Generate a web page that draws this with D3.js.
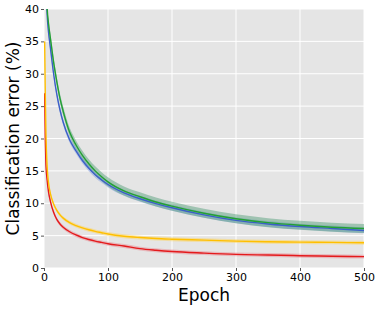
<!DOCTYPE html>
<html>
<head>
<meta charset="utf-8">
<script src="https://cdn.jsdelivr.net/npm/d3@7"></script>
<style>
  body { margin: 0; background: #fff; }
  svg { font-family: "DejaVu Sans", sans-serif; }
</style>
</head>
<body>
<div id="chart"></div>
<script>
const epochs = [1, 2, 3, 5, 7, 10, 15, 20, 25, 30, 40, 50, 60, 70, 80, 90, 100,
                125, 150, 175, 200, 250, 300, 350, 400, 450, 500];

const greenErr  = [55, 48, 45, 40, 37.8, 35.5, 31.8, 28.8, 26.2, 24.2, 21.0, 19.0, 17.4, 16.1, 15.0, 14.1, 13.3,
                   11.9, 11.0, 10.2, 9.55, 8.45, 7.6, 7.0, 6.6, 6.3, 6.1];
const blueErr   = [54, 47, 44, 39, 36.5, 34, 30.0, 26.8, 24.4, 22.5, 19.8, 18.1, 16.6, 15.4, 14.4, 13.6, 12.9,
                   11.6, 10.7, 9.95, 9.3, 8.2, 7.35, 6.8, 6.4, 6.1, 5.8];
const orangeErr = [35, 27, 21, 15.5, 13.2, 11.5, 9.9, 8.9, 8.2, 7.7, 7.0, 6.55, 6.2, 5.9, 5.65, 5.45, 5.25,
                   4.9, 4.7, 4.55, 4.45, 4.3, 4.15, 4.05, 4.0, 3.95, 3.9];
const redErr    = [27, 20, 16, 13.5, 11.8, 10.3, 8.6, 7.5, 6.8, 6.3, 5.6, 5.1, 4.7, 4.4, 4.15, 3.95, 3.75,
                   3.4, 3.0, 2.75, 2.55, 2.3, 2.1, 2.0, 1.9, 1.82, 1.75];

const seriesNames  = ["red", "orange", "blue", "green"];
const seriesColors = ["#e41a1c", "#ffbf00", "#3b5fc8", "#23a033"];
const bandColors   = ["#e8808a", "#ffd24d", "#7f9be0", "#4a9a70"];
const bandSpread   = [0.3, 0.3, 0.45, 0.7];

const xTicks = [0, 100, 200, 300, 400, 500];
const yTicks = [0, 5, 10, 15, 20, 25, 30, 35, 40];

const width = 381, height = 309;
const margin = { top: 9, right: 17, bottom: 41, left: 44 };

const values = [redErr, orangeErr, blueErr, greenErr];
const series = seriesNames.map((name, i) => ({
    name: name,
    color: seriesColors[i],
    band: bandColors[i],
    spread: bandSpread[i],
    points: epochs.map((e, j) => ({ epoch: e, err: values[i][j] }))
}));

const svg = d3.select("#chart").append("svg")
    .attr("width", width)
    .attr("height", height);

const x = d3.scaleLinear().domain([0, 500]).range([margin.left, width - margin.right]);
const y = d3.scaleLinear().domain([0, 40]).range([height - margin.bottom, margin.top]);

// panel background
svg.append("rect")
    .attr("x", x(0)).attr("y", y(40))
    .attr("width", x(500) - x(0)).attr("height", y(0) - y(40))
    .attr("fill", "#e5e5e5");

// grid
svg.append("g").selectAll("line").data(xTicks).enter().append("line")
    .attr("x1", d => x(d)).attr("x2", d => x(d))
    .attr("y1", y(0)).attr("y2", y(40))
    .attr("stroke", "#fff").attr("stroke-width", 1);
svg.append("g").selectAll("line").data(yTicks).enter().append("line")
    .attr("x1", x(0)).attr("x2", x(500))
    .attr("y1", d => y(d)).attr("y2", d => y(d))
    .attr("stroke", "#fff").attr("stroke-width", 1);

svg.append("clipPath").attr("id", "clip")
    .append("rect")
    .attr("x", x(0)).attr("y", y(40))
    .attr("width", x(500) - x(0)).attr("height", y(0) - y(40));

const plot = svg.append("g").attr("clip-path", "url(#clip)");

const area = d3.area()
    .curve(d3.curveMonotoneX)
    .x(d => x(d.epoch));
const line = d3.line()
    .curve(d3.curveMonotoneX)
    .x(d => x(d.epoch))
    .y(d => y(d.err));

series.forEach(s => {
    plot.append("path")
        .datum(s.points)
        .attr("d", area.y0(d => y(d.err - s.spread)).y1(d => y(d.err + s.spread)))
        .attr("fill", s.band)
        .attr("fill-opacity", 0.45);
});
series.forEach(s => {
    plot.append("path")
        .datum(s.points)
        .attr("d", line)
        .attr("fill", "none")
        .attr("stroke", s.color)
        .attr("stroke-width", 1.4);
});

// axes
const xAxis = svg.append("g")
    .attr("transform", `translate(0, ${y(0)})`)
    .call(d3.axisBottom(x).tickValues(xTicks).tickSize(3).tickPadding(2));
const yAxis = svg.append("g")
    .attr("transform", `translate(${x(0)}, 0)`)
    .call(d3.axisLeft(y).tickValues(yTicks).tickSize(3).tickPadding(2));
[xAxis, yAxis].forEach(a => {
    a.select(".domain").remove();
    a.selectAll(".tick line").attr("stroke", "#555");
    a.selectAll(".tick text")
        .attr("fill", "#000")
        .style("font-size", "11px")
        .style("font-family", "DejaVu Sans");
});

svg.append("text")
    .attr("x", (x(0) + x(500)) / 2)
    .attr("y", 301)
    .attr("text-anchor", "middle")
    .style("font-size", "17px")
    .text("Epoch");

svg.append("text")
    .attr("transform", `translate(19, ${(y(0) + y(40)) / 2}) rotate(-90)`)
    .attr("text-anchor", "middle")
    .style("font-size", "17px")
    .text("Classification error (%)");
</script>
</body>
</html>
